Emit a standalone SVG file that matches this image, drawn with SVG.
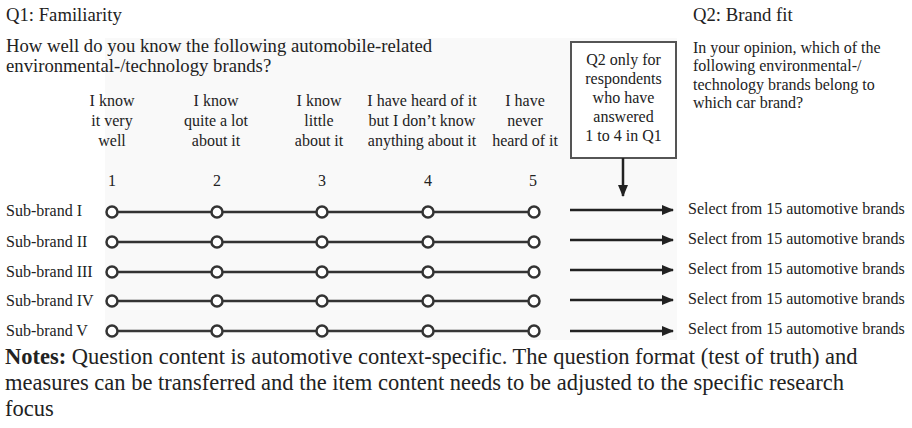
<svg xmlns="http://www.w3.org/2000/svg" width="912" height="428" viewBox="0 0 912 428">
<defs>
<style>
text{font-family:"Liberation Serif","Times New Roman",serif;fill:#222;}
.t{font-size:18.7px;}
.h{font-size:16px;text-anchor:middle;}
.s{font-size:16px;}
.n{font-size:22.5px;}
.scale{stroke:#333;stroke-width:2.5;fill:none;}
.pt{stroke:#333;stroke-width:2.5;fill:#fff;}
.arr{stroke:#222;stroke-width:2.5;fill:none;}
</style>
<marker id="ah" markerWidth="12" markerHeight="10" refX="11" refY="5" orient="auto" markerUnits="userSpaceOnUse">
<path d="M0,0 L12,5 L0,10 Z" fill="#222"/>
</marker>
</defs>
<rect width="912" height="428" fill="#fff"/>
<rect x="105" y="38" width="572" height="302" fill="#f9f9f9"/>

<g id="q1-title">
<text class="t" x="6" y="21">Q1: Familiarity</text>
<text class="t" x="6" y="52">How well do you know the following automobile-related</text>
<text class="t" x="6" y="72">environmental-/technology brands?</text>
</g>

<g id="q2-title">
<text class="t" x="693" y="21">Q2: Brand fit</text>
<text class="s" x="693" y="53">In your opinion, which of the</text>
<text class="s" x="693" y="71">following environmental-/</text>
<text class="s" x="693" y="90">technology brands belong to</text>
<text class="s" x="693" y="108">which car brand?</text>
</g>

<g id="headers">
<text class="h" x="112" y="106">I know</text>
<text class="h" x="112" y="126">it very</text>
<text class="h" x="112" y="146">well</text>
<text class="h" x="216" y="106">I know</text>
<text class="h" x="216" y="126">quite a lot</text>
<text class="h" x="216" y="146">about it</text>
<text class="h" x="319" y="106">I know</text>
<text class="h" x="319" y="126">little</text>
<text class="h" x="319" y="146">about it</text>
<text class="h" x="422" y="106">I have heard of it</text>
<text class="h" x="422" y="126">but I don’t know</text>
<text class="h" x="422" y="146">anything about it</text>
<text class="h" x="525" y="106">I have</text>
<text class="h" x="525" y="126">never</text>
<text class="h" x="525" y="146">heard of it</text>
<text class="h" x="112" y="186">1</text>
<text class="h" x="217" y="186">2</text>
<text class="h" x="322" y="186">3</text>
<text class="h" x="428" y="186">4</text>
<text class="h" x="533" y="186">5</text>
</g>

<g id="filter-box">
<rect x="571" y="42" width="105" height="116" fill="#fff" stroke="#555" stroke-width="2"/>
<text class="h" x="623.5" y="65">Q2 only for</text>
<text class="h" x="623.5" y="84">respondents</text>
<text class="h" x="623.5" y="103">who have</text>
<text class="h" x="623.5" y="122">answered</text>
<text class="h" x="623.5" y="141">1 to 4 in Q1</text>
</g>

<g id="row1">
<text class="s" x="6" y="216">Sub-brand I</text>
<path class="scale" d="M112,212 H534"/>
<circle class="pt" cx="112" cy="212" r="5.5"/><circle class="pt" cx="217" cy="212" r="5.5"/><circle class="pt" cx="322" cy="212" r="5.5"/><circle class="pt" cx="428" cy="212" r="5.5"/><circle class="pt" cx="534" cy="212" r="5.5"/>
<text class="s" x="688" y="214">Select from 15 automotive brands</text>
</g>
<g id="row2">
<text class="s" x="6" y="247">Sub-brand II</text>
<path class="scale" d="M112,242 H534"/>
<circle class="pt" cx="112" cy="242" r="5.5"/><circle class="pt" cx="217" cy="242" r="5.5"/><circle class="pt" cx="322" cy="242" r="5.5"/><circle class="pt" cx="428" cy="242" r="5.5"/><circle class="pt" cx="534" cy="242" r="5.5"/>
<text class="s" x="688" y="244">Select from 15 automotive brands</text>
</g>
<g id="row3">
<text class="s" x="6" y="277">Sub-brand III</text>
<path class="scale" d="M112,272 H534"/>
<circle class="pt" cx="112" cy="272" r="5.5"/><circle class="pt" cx="217" cy="272" r="5.5"/><circle class="pt" cx="322" cy="272" r="5.5"/><circle class="pt" cx="428" cy="272" r="5.5"/><circle class="pt" cx="534" cy="272" r="5.5"/>
<text class="s" x="688" y="274">Select from 15 automotive brands</text>
</g>
<g id="row4">
<text class="s" x="6" y="306">Sub-brand IV</text>
<path class="scale" d="M112,301 H534"/>
<circle class="pt" cx="112" cy="301" r="5.5"/><circle class="pt" cx="217" cy="301" r="5.5"/><circle class="pt" cx="322" cy="301" r="5.5"/><circle class="pt" cx="428" cy="301" r="5.5"/><circle class="pt" cx="534" cy="301" r="5.5"/>
<text class="s" x="688" y="304">Select from 15 automotive brands</text>
</g>
<g id="row5">
<text class="s" x="6" y="336">Sub-brand V</text>
<path class="scale" d="M112,331 H534"/>
<circle class="pt" cx="112" cy="331" r="5.5"/><circle class="pt" cx="217" cy="331" r="5.5"/><circle class="pt" cx="322" cy="331" r="5.5"/><circle class="pt" cx="428" cy="331" r="5.5"/><circle class="pt" cx="534" cy="331" r="5.5"/>
<text class="s" x="688" y="334">Select from 15 automotive brands</text>
</g>

<g id="connectors">
<path class="arr" d="M623,158 V196" marker-end="url(#ah)"/>
<path class="arr" d="M570,210 H673" marker-end="url(#ah)"/>
<path class="arr" d="M570,240 H673" marker-end="url(#ah)"/>
<path class="arr" d="M570,270 H673" marker-end="url(#ah)"/>
<path class="arr" d="M570,300 H673" marker-end="url(#ah)"/>
<path class="arr" d="M570,331 H673" marker-end="url(#ah)"/>
</g>

<g id="notes">
<text class="n" x="5" y="364"><tspan font-weight="bold">Notes:</tspan> Question content is automotive context-specific. The question format (test of truth) and</text>
<text class="n" x="5" y="390">measures can be transferred and the item content needs to be adjusted to the specific research</text>
<text class="n" x="5" y="416">focus</text>
</g>
</svg>
